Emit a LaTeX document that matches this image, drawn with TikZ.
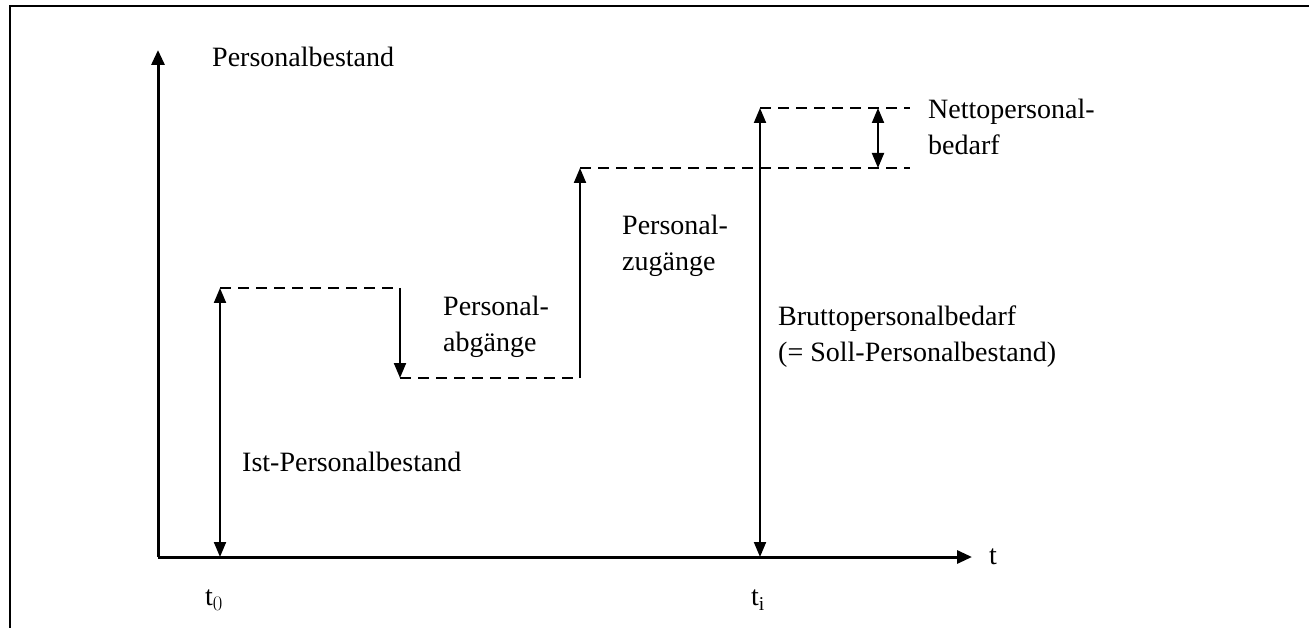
\documentclass[tikz,border=0pt]{standalone}
\usepackage{fontspec}
\setmainfont{Liberation Serif}
\usetikzlibrary{arrows.meta}
\begin{document}
\begin{tikzpicture}[x=1pt,y=-1pt,
  axis/.style={line width=3pt,-{Triangle[length=15pt,width=13pt]}},
  dim/.style={line width=2pt,{Triangle[length=15pt,width=12pt]}-{Triangle[length=15pt,width=12pt]}},
  down/.style={line width=2pt,-{Triangle[length=15pt,width=12pt]}},
  guide/.style={line width=1.6pt,dash pattern=on 11pt off 7pt},
  lbl/.style={font=\fontsize{28}{36}\selectfont,align=left,inner sep=0pt,anchor=west}]
\useasboundingbox (0,0) rectangle (1309,628);
\draw[line width=2.5pt] (10,640) -- (10,6) -- (1320,6);
% coordinates
\coordinate (O) at (158,557);
\coordinate (Ytip) at (158,50);
\coordinate (Xtip) at (972,557);
\coordinate (A0) at (220,557);
\coordinate (A1) at (220,288);
\coordinate (B0) at (400,288);
\coordinate (B1) at (400,378);
\coordinate (C0) at (580,378);
\coordinate (C1) at (580,168);
\coordinate (D0) at (760,557);
\coordinate (D1) at (760,108);
\coordinate (E0) at (878,108);
\coordinate (E1) at (878,168);
\coordinate (G1) at (910,108);
\coordinate (G2) at (910,168);
% axes
\draw[axis] (O) -- (Ytip);
\draw[axis] (O) -- (Xtip);
% guides
\draw[guide] (A1) -- (B0);
\draw[guide] (B1) -- (C0);
\draw[guide] (C1) -- (G2);
\draw[guide] (D1) -- (G1);
% arrows
\draw[dim] (A0) -- (A1);
\draw[down] (B0) -- (B1);
\draw[down] (C0) -- (C1);
\draw[dim] (D0) -- (D1);
\draw[dim] (E0) -- (E1);
% labels
\node[lbl] (lp) at (212,57) {Personalbestand};
\node[lbl] (lt) at (989,557) {t};
\node[lbl] (lt0) at (205,600) {t$_{\scriptstyle 0}$};
\node[lbl] (lti) at (751,600) {t$_{\scriptstyle\mathrm{i}}$};
\node[lbl] (list) at (242,462) {Ist-Personalbestand};
\node[lbl] (lab) at (443,327) {Personal-\\abgänge};
\node[lbl] (lzu) at (622,246) {Personal-\\zugänge};
\node[lbl] (lbr) at (778,337) {Bruttopersonalbedarf\\(= Soll-Personalbestand)};
\node[lbl] (lne) at (928,127) {Nettopersonal-\\bedarf};
\end{tikzpicture}
\end{document}
